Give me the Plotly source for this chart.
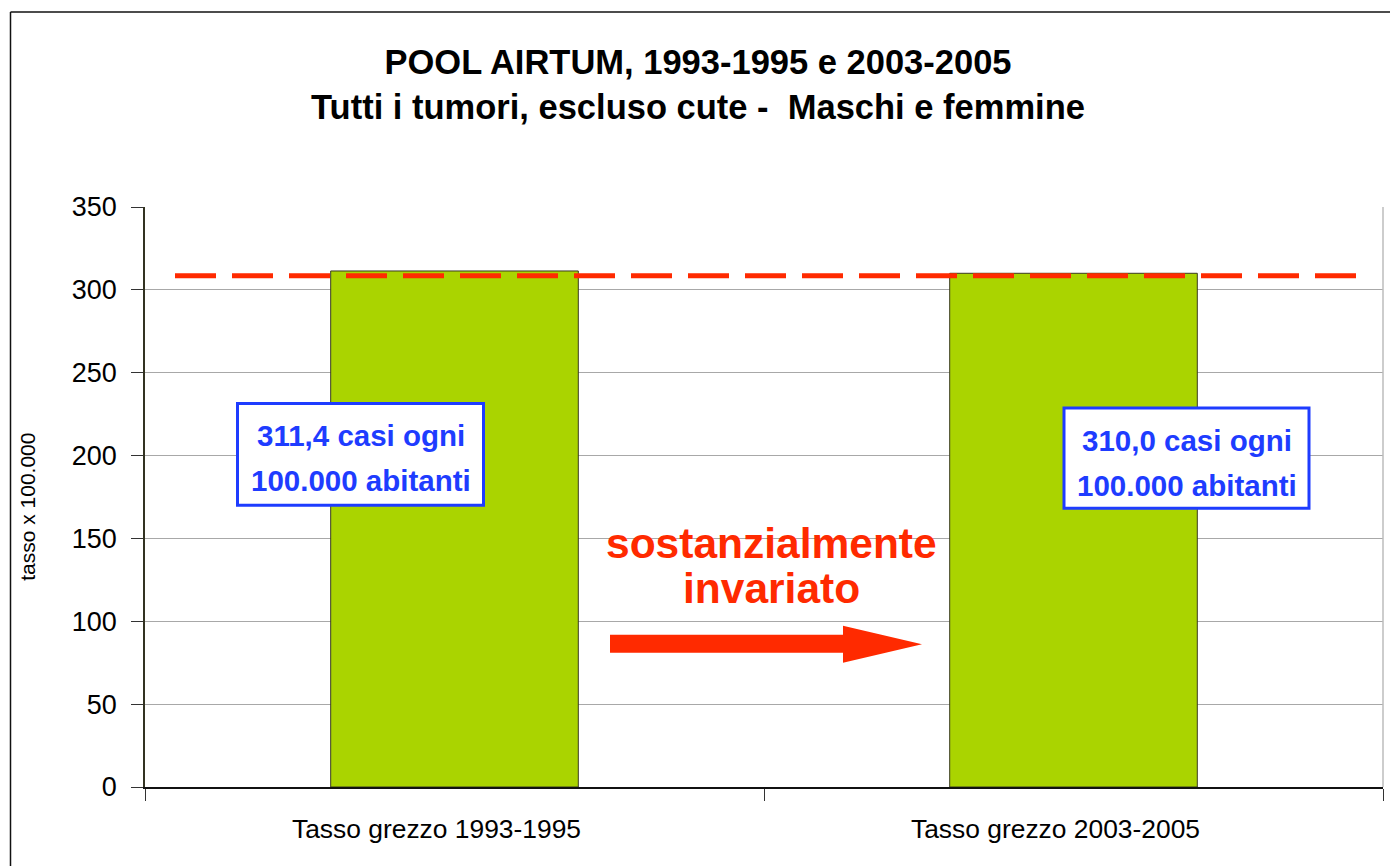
import plotly.graph_objects as go

# ---- data ----
categories = ["Tasso grezzo 1993-1995", "Tasso grezzo 2003-2005"]
rates = [311.4, 310.0]
reference_rate = 308.5
box_lines = [["311,4 casi ogni", "100.000 abitanti"],
             ["310,0 casi ogni", "100.000 abitanti"]]
y_ticks = [0, 50, 100, 150, 200, 250, 300, 350]
title_lines = ["POOL AIRTUM, 1993-1995 e 2003-2005",
               "Tutti i tumori, escluso cute -  Maschi e femmine"]
y_title = "tasso x 100.000"
note_lines = ["sostanzialmente", "invariato"]

# page offset (browser body margin)
OFF = 8
W, H = 1398 - OFF, 866 - OFF
L, T = 145 - OFF, 207 - OFF
R = W - (1383 - OFF)
B = H - (787.3 - OFF)
PW, PH = W - L - R, H - T - B


def px(x):
    """screen x -> paper x"""
    return (x - OFF - L) / PW


def py(y):
    """screen y -> paper y"""
    return (H - B - (y - OFF)) / PH


ARIAL = "Liberation Sans, Arial, sans-serif"
RED = "#FF2A00"
BLUE = "#1E3CFF"

fig = go.Figure()
fig.add_trace(go.Bar(
    x=categories, y=rates, width=0.4,
    marker=dict(color="#AAD400", line=dict(color="#3A3A20", width=1)),
    showlegend=False, hoverinfo="x+y",
))

shapes = []
# dashed reference line
shapes.append(dict(type="line", xref="paper", yref="y",
                   x0=px(175), x1=px(1366), y0=reference_rate, y1=reference_rate,
                   line=dict(color=RED, width=5, dash="41px,16px")))
# right border of plot area
shapes.append(dict(type="line", xref="paper", yref="paper", x0=1, x1=1, y0=0, y1=1,
                   line=dict(color="#BDBDBD", width=1.5)))
# outer frame (top & left)
shapes.append(dict(type="line", xref="paper", yref="paper",
                   x0=px(10.5), x1=px(1400), y0=py(12), y1=py(12),
                   line=dict(color="#111111", width=1.5)))
shapes.append(dict(type="line", xref="paper", yref="paper",
                   x0=px(10.5), x1=px(10.5), y0=py(12), y1=py(870),
                   line=dict(color="#111111", width=1.5)))
shapes.append(dict(type="line", xref="paper", yref="paper",
                   x0=px(0), x1=px(8), y0=py(848), y1=py(848),
                   line=dict(color=RED, width=1)))
# big red arrow
pts = [(610, 635), (843, 635), (843, 626), (922, 644.5), (843, 663), (843, 653), (610, 653)]
path = "M " + " L ".join(f"{px(a):.5f},{py(b):.5f}" for a, b in pts) + " Z"
shapes.append(dict(type="path", xref="paper", yref="paper", path=path,
                   fillcolor=RED, line=dict(color=RED, width=0)))

# label boxes
boxes = [dict(x0=237.5, x1=483.5, y0=403.5, y1=505.5, cx=360.5, ly=[436, 481]),
         dict(x0=1064, x1=1309, y0=408, y1=508.5, cx=1186.5, ly=[441, 486])]
annotations = []
for bx, lines in zip(boxes, box_lines):
    shapes.append(dict(type="rect", xref="paper", yref="paper",
                       x0=px(bx["x0"]), x1=px(bx["x1"]), y0=py(bx["y0"]), y1=py(bx["y1"]),
                       fillcolor="white", line=dict(color=BLUE, width=3)))
    for yy, txt in zip(bx["ly"], lines):
        annotations.append(dict(
            xref="paper", yref="paper", x=px(bx["cx"]), y=py(yy),
            xanchor="center", yanchor="middle", text=f"<b>{txt}</b>", showarrow=False,
            font=dict(family=ARIAL, size=29.5, color=BLUE),
        ))

for yy, txt in zip([544, 589], note_lines):
    annotations.append(dict(
        xref="paper", yref="paper", x=px(771), y=py(yy),
        xanchor="center", yanchor="middle", text=f"<b>{txt}</b>", showarrow=False,
        font=dict(family=ARIAL, size=42.5, color=RED),
    ))
annotations.append(dict(
    xref="paper", yref="paper", x=px(28), y=py(507),
    xanchor="center", yanchor="middle", text=y_title, textangle=-90, showarrow=False,
    font=dict(family=ARIAL, size=21, color="black"),
))

fig.update_layout(
    width=W, height=H,
    margin=dict(l=L, r=R, t=T, b=B, pad=0),
    paper_bgcolor="white", plot_bgcolor="white",
    title=dict(text="<b>" + "<br>".join(title_lines) + "</b>",
               x=(698 - OFF) / W, xref="container", xanchor="center",
               y=1 - 66 / H, yref="container", yanchor="top",
               font=dict(family=ARIAL, size=34.5, color="black")),
    xaxis=dict(type="category", range=[-0.5, 1.5], showgrid=False,
               showline=True, linecolor="#111111", linewidth=1.5,
               ticks="outside", tickson="boundaries", ticklen=12, tickcolor="#333333",
               tickfont=dict(family=ARIAL, size=26.4, color="black"),
               ticklabelstandoff=18, ticklabelshift=-18),
    yaxis=dict(range=[0, 350], tickvals=y_ticks, showgrid=True, gridcolor="#A8A8A8", gridwidth=1,
               showline=True, linecolor="#333322", linewidth=1.5, zeroline=False,
               ticks="outside", ticklen=12, tickcolor="#333333",
               tickfont=dict(family=ARIAL, size=27, color="black"),
               ticklabelstandoff=9),
    shapes=shapes, annotations=annotations,
    bargap=0.6,
)

fig.write_html("out.html")
